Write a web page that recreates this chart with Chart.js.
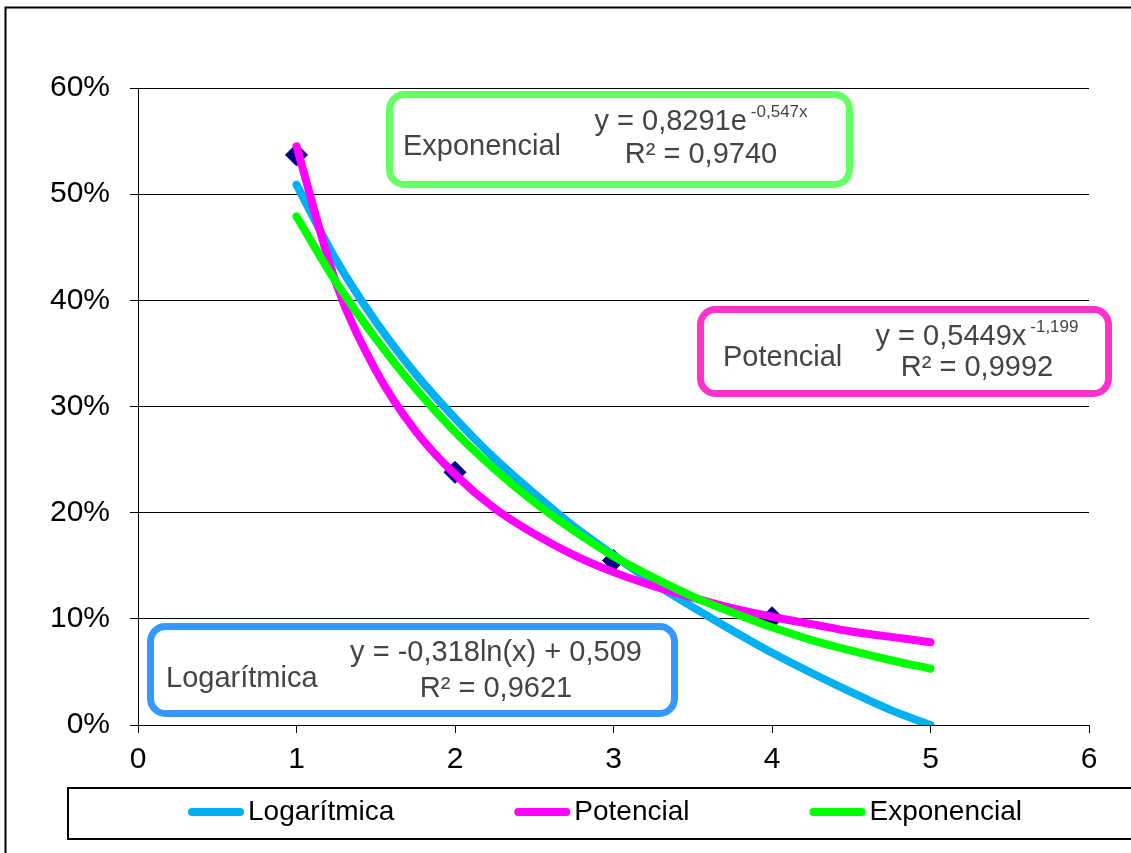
<!DOCTYPE html>
<html>
<head>
<meta charset="utf-8">
<script src="https://cdn.jsdelivr.net/npm/chart.js@4/dist/chart.umd.min.js"></script>
<style>html,body{margin:0;padding:0;background:#fff;}canvas{display:block;}</style>
</head>
<body>
<canvas id="c" width="1131" height="853"></canvas>
<script>
// ---- data ----
const seriesNames = ['Logarítmica', 'Potencial', 'Exponencial'];
const fitX = [1, 1.25, 1.5, 1.75, 2, 2.25, 2.5, 2.75, 3, 3.25, 3.5, 3.75, 4, 4.25, 4.5, 4.75, 5];
const logaritmica = [0.509, 0.438, 0.380, 0.331, 0.289, 0.251, 0.218, 0.187, 0.160, 0.134, 0.111, 0.089, 0.068, 0.049, 0.031, 0.014, 0.000];
const potencial   = [0.545, 0.416, 0.334, 0.277, 0.236, 0.204, 0.180, 0.160, 0.144, 0.131, 0.120, 0.110, 0.102, 0.095, 0.088, 0.083, 0.078];
const exponencial = [0.479, 0.417, 0.364, 0.317, 0.276, 0.241, 0.210, 0.183, 0.159, 0.139, 0.121, 0.106, 0.092, 0.080, 0.070, 0.061, 0.053];
const obsX = [1, 2, 3, 4];
const obsY = [0.537, 0.238, 0.155, 0.101];
const xTickValues = [0, 1, 2, 3, 4, 5, 6];
const yTickValues = [0, 0.1, 0.2, 0.3, 0.4, 0.5, 0.6];
const labelNames = ['Exponencial', 'Potencial', 'Logarítmica'];
const labelEquations = ['y = 0,8291e', 'y = 0,5449x', 'y = -0,318ln(x) + 0,509'];
const labelExponents = ['-0,547x', '-1,199', ''];
const labelR2 = ['R² = 0,9740', 'R² = 0,9992', 'R² = 0,9621'];

// ---- styles ----
const FONT = "'Liberation Sans', Arial, sans-serif";
const lineColors = ['#00B0F0', '#FF00FF', '#00FF00'];
const boxStyles = [
  {color: '#66FF66', x: 386, y: 91, w: 467, h: 97, lx: 403, ly: 147, cx: 701, ey: 122, ry: 155},
  {color: '#FF33CC', x: 697, y: 306, w: 415, h: 91, lx: 723, ly: 358, cx: 977, ey: 337, ry: 368},
  {color: '#3399FF', x: 147, y: 623, w: 531, h: 94, lx: 166, ly: 679, cx: 496, ey: 653, ry: 689}
];

const toPts = (xs, ys) => xs.map((x, i) => ({x: x, y: ys[i]}));
const curveSets = [logaritmica, potencial, exponencial];
const drawOrder = [2, 1, 0];

const datasets = curveSets.map((vals, i) => ({
  label: seriesNames[i],
  data: toPts(fitX, vals),
  borderColor: lineColors[i],
  backgroundColor: lineColors[i],
  borderWidth: 8,
  borderCapStyle: 'round',
  borderJoinStyle: 'round',
  pointRadius: 0,
  cubicInterpolationMode: 'monotone',
  fill: false,
  order: drawOrder[i]
}));
datasets.push({
  label: 'Datos',
  data: toPts(obsX, obsY),
  showLine: false,
  pointStyle: 'rectRot',
  pointRadius: 11,
  pointBackgroundColor: '#000080',
  pointBorderColor: '#000080',
  pointBorderWidth: 1,
  order: 3
});

const decorPlugin = {
  id: 'decor',
  afterDraw(chart) {
    const ctx = chart.ctx;
    ctx.save();
    // outer frame
    ctx.strokeStyle = '#000';
    ctx.lineWidth = 2;
    ctx.strokeRect(5.5, 7.5, 1140, 860);

    // trendline label boxes
    boxStyles.forEach((b, i) => {
      ctx.lineWidth = 7;
      ctx.strokeStyle = b.color;
      ctx.fillStyle = '#fff';
      ctx.beginPath();
      ctx.roundRect(b.x + 3.5, b.y + 3.5, b.w - 7, b.h - 7, 15);
      ctx.fill();
      ctx.stroke();
      ctx.fillStyle = '#444';
      ctx.textBaseline = 'middle';
      ctx.textAlign = 'left';
      ctx.font = '29px ' + FONT;
      ctx.fillText(labelNames[i], b.lx, b.ly);
      const baseW = ctx.measureText(labelEquations[i]).width;
      ctx.font = '17px ' + FONT;
      const supW = labelExponents[i] ? ctx.measureText(labelExponents[i]).width + 4 : 0;
      const startX = b.cx - (baseW + supW) / 2;
      ctx.font = '29px ' + FONT;
      ctx.fillText(labelEquations[i], startX, b.ey);
      if (labelExponents[i]) {
        ctx.font = '17px ' + FONT;
        ctx.fillText(labelExponents[i], startX + baseW + 4, b.ey - 10);
      }
      ctx.font = '29px ' + FONT;
      ctx.textAlign = 'center';
      ctx.fillText(labelR2[i], b.cx, b.ry);
    });

    // legend box
    ctx.strokeStyle = '#000';
    ctx.lineWidth = 2;
    ctx.strokeRect(68, 788, 1100, 51);
    let x = 192;
    const ly = 812;
    ctx.font = '28px ' + FONT;
    ctx.textAlign = 'left';
    ctx.textBaseline = 'middle';
    chart.data.datasets.slice(0, 3).forEach(ds => {
      ctx.strokeStyle = ds.borderColor;
      ctx.lineWidth = 8;
      ctx.lineCap = 'round';
      ctx.beginPath();
      ctx.moveTo(x, ly);
      ctx.lineTo(x + 48, ly);
      ctx.stroke();
      ctx.fillStyle = '#000';
      ctx.fillText(ds.label, x + 56, ly);
      x = x + 56 + ctx.measureText(ds.label).width + 124;
    });
    ctx.restore();
  }
};

new Chart(document.getElementById('c'), {
  type: 'line',
  data: {datasets: datasets},
  plugins: [decorPlugin],
  options: {
    responsive: false,
    animation: false,
    devicePixelRatio: 1,
    layout: {padding: {top: 88, right: 42, bottom: 68, left: 0}},
    plugins: {legend: {display: false}, tooltip: {enabled: false}},
    scales: {
      x: {
        type: 'linear',
        min: 0, max: 6,
        afterBuildTicks: s => { s.ticks = xTickValues.map(v => ({value: v})); },
        afterFit: s => { s.height = 60; },
        ticks: {color: '#000', font: {family: FONT, size: 30}, padding: 9, callback: v => String(v)},
        grid: {drawOnChartArea: false, drawTicks: true, tickLength: 8, color: '#000', lineWidth: 1},
        border: {color: '#000', width: 1}
      },
      y: {
        min: 0, max: 0.6,
        afterBuildTicks: s => { s.ticks = yTickValues.map(v => ({value: v})); },
        afterFit: s => { s.width = 138; },
        ticks: {color: '#000', font: {family: FONT, size: 30}, padding: 20, callback: v => Math.round(v * 100) + '%'},
        grid: {color: '#000', lineWidth: 1, tickLength: 8, drawTicks: true},
        border: {color: '#000', width: 1}
      }
    }
  }
});
</script>
</body>
</html>
